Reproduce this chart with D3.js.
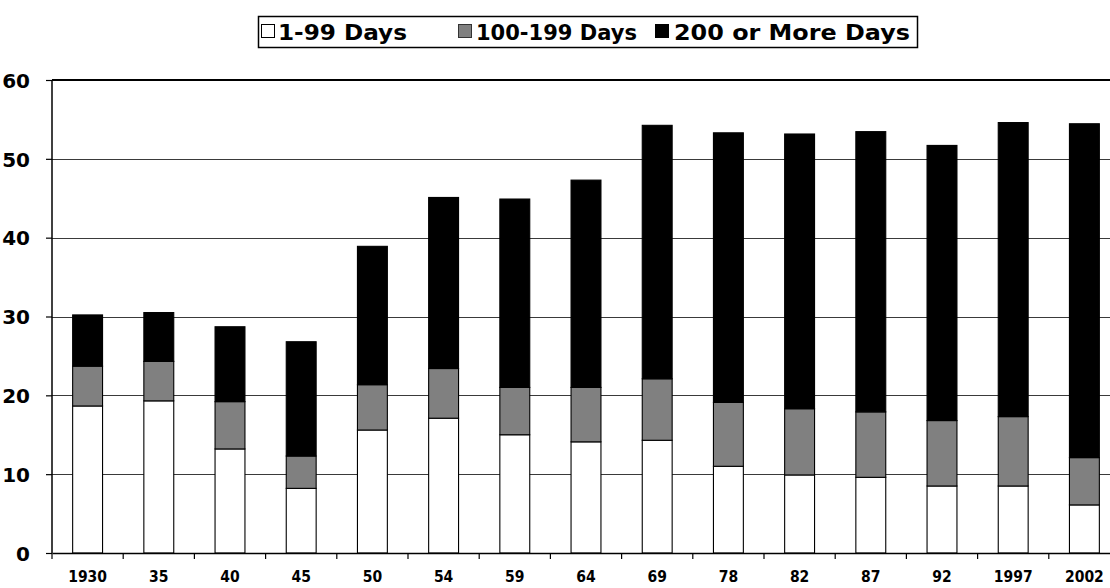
<!DOCTYPE html>
<html>
<head>
<meta charset="utf-8">
<script src="https://cdn.jsdelivr.net/npm/d3@7"></script>
<style>
  html, body { margin: 0; padding: 0; background: #fff; }
  svg { display: block; }
  text { font-family: "DejaVu Sans", Verdana, sans-serif; font-weight: bold; fill: #000; }
</style>
</head>
<body>
<svg id="chart" width="1110" height="588"></svg>
<script>
const categories = ["1930","35","40","45","50","54","59","64","69","78","82","87","92","1997","2002"];
const days1to99   = [18.65, 19.3, 13.2, 8.2, 15.6, 17.1, 15.0, 14.1, 14.3, 11.0, 9.9, 9.6, 8.5, 8.5, 6.1];
const days100to199 = [5.05, 5.0, 6.0, 4.1, 5.75, 6.3, 6.0, 6.9, 7.8, 8.1, 8.4, 8.3, 8.3, 8.8, 6.0];
const days200plus  = [6.5, 6.2, 9.5, 14.5, 17.55, 21.7, 23.9, 26.3, 32.15, 34.2, 34.85, 35.55, 34.9, 37.3, 42.35];
const seriesNames = ["1-99 Days", "100-199 Days", "200 or More Days"];
const seriesColors = ["#ffffff", "#808080", "#000000"];
const yTicks = [0, 10, 20, 30, 40, 50, 60];

const svg = d3.select("#chart");
const plotLeft = 52, plotRight = 1120, plotTop = 80, plotBottom = 553;

const x = d3.scaleBand().domain(categories).range([plotLeft, plotRight]).paddingInner(0.58).paddingOuter(0.29);
const y = d3.scaleLinear().domain([0, 60]).range([plotBottom, plotTop]);

const rows = categories.map((c, i) => ({cat: c, s0: days1to99[i], s1: days100to199[i], s2: days200plus[i]}));
const stack = d3.stack().keys(["s0", "s1", "s2"]);
const layers = stack(rows);

// gridlines
svg.append("g").selectAll("line").data(yTicks.filter(t => t > 0 && t < 60)).join("line")
  .attr("x1", plotLeft).attr("x2", plotRight)
  .attr("y1", d => Math.round(y(d)) + 0.5).attr("y2", d => Math.round(y(d)) + 0.5)
  .attr("stroke", "#3a3a3a").attr("stroke-width", 1.2);
// top border
svg.append("line").attr("x1", plotLeft).attr("x2", plotRight).attr("y1", y(60)).attr("y2", y(60))
  .attr("stroke", "#000").attr("stroke-width", 2);

// bars
svg.append("g").selectAll("g").data(layers).join("g")
  .attr("fill", (d, i) => seriesColors[i])
  .selectAll("rect").data(d => d).join("rect")
  .attr("x", d => x(d.data.cat))
  .attr("width", x.bandwidth())
  .attr("y", d => y(d[1]))
  .attr("height", d => y(d[0]) - y(d[1]))
  .attr("stroke", "#000").attr("stroke-width", 1.1);

// y axis
const yAxis = d3.axisLeft(y).tickValues(yTicks).tickSize(6).tickPadding(16).tickFormat(d3.format("d"));
const gy = svg.append("g").attr("transform", `translate(${plotLeft},0)`).call(yAxis);
gy.select(".domain").attr("stroke", "#000").attr("stroke-width", 1.5).attr("d", `M0,${plotTop}V${plotBottom}`);
gy.selectAll(".tick line").attr("stroke", "#000").attr("stroke-width", 1.2);
gy.selectAll("text").style("font-size", "20px").style("font-family", "'DejaVu Sans', Verdana, sans-serif").style("font-weight", "bold").attr("dy", "0.36em");

// x axis
const xAxis = d3.axisBottom(x).tickSize(0).tickPadding(18);
const gx = svg.append("g").attr("transform", `translate(0,${plotBottom})`).call(xAxis);
gx.select(".domain").attr("stroke", "#000").attr("stroke-width", 1.5);
gx.selectAll("text").style("font-size", "15.5px").style("font-family", "'DejaVu Sans Condensed', 'DejaVu Sans', sans-serif").style("font-weight", "bold");
// tick marks at band boundaries
const boundaries = categories.map(c => x(c) - x.step() * x.paddingInner() / 2).concat([plotRight]);
gx.append("g").selectAll("line").data(boundaries).join("line")
  .attr("x1", d => d).attr("x2", d => d).attr("y1", 0).attr("y2", 6)
  .attr("stroke", "#000").attr("stroke-width", 1.2);

// legend
const legend = svg.append("g");
legend.append("rect").attr("x", 258.5).attr("y", 16.5).attr("width", 659).attr("height", 31)
  .attr("fill", "#fff").attr("stroke", "#000").attr("stroke-width", 1.5);
const legendX = [261, 458, 655];
const legendTextX = [278, 476, 674];
const legendTextW = [129, 161, 236];
seriesNames.forEach((n, i) => {
  legend.append("rect").attr("x", legendX[i] + 0.5).attr("y", 24.5).attr("width", 13).attr("height", 13)
    .attr("fill", seriesColors[i]).attr("stroke", i === 1 ? "#333" : "#000").attr("stroke-width", 1);
  legend.append("text").attr("x", legendTextX[i]).attr("y", 39.5)
    .attr("textLength", legendTextW[i]).attr("lengthAdjust", "spacingAndGlyphs")
    .style("font-size", "22px").text(n);
});
</script>
</body>
</html>
